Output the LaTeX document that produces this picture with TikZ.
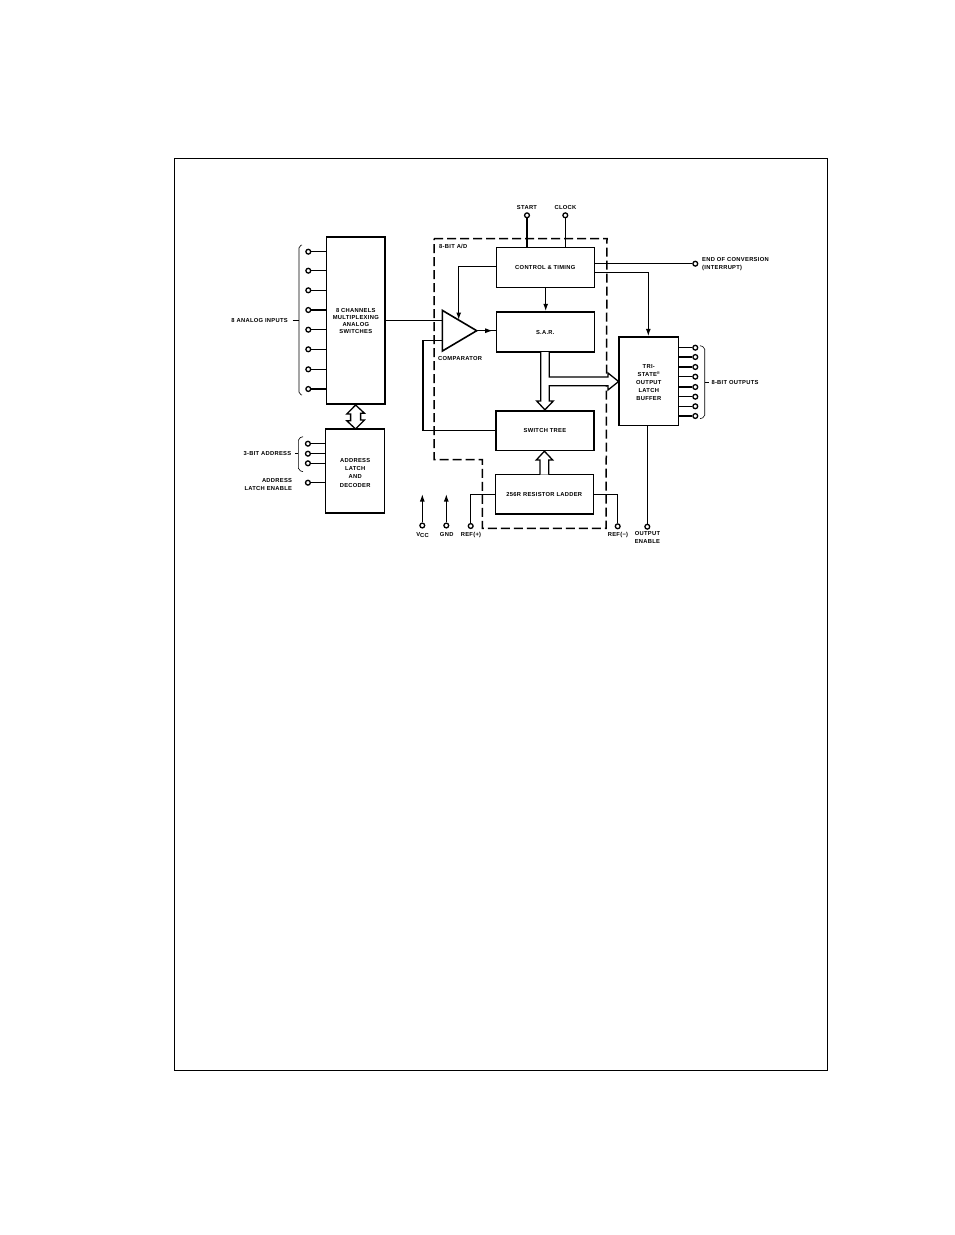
\documentclass[tikz,border=0pt]{standalone}
\usepackage{fontspec}
\setmainfont{Liberation Sans}
\newfontfamily\lblfont[LetterSpace=5]{Liberation Sans}
\usetikzlibrary{arrows.meta,shapes.geometric,decorations.markings,calc}
\tikzset{
  lab/.style={inner sep=0pt,font=\lblfont\bfseries\fontsize{5.8}{7}\selectfont,text=black,align=center},
  lableft/.style={lab,anchor=west,align=left},
  labright/.style={lab,anchor=east,align=right},
  blk/.style={draw,line width=1.5pt,inner sep=0pt,lab,draw=black},
  pin/.style={circle,draw,line width=1.3pt,fill=white,minimum size=4.8pt,inner sep=0pt},
  wire/.style={line width=1.5pt},
  thin wire/.style={line width=1.3pt},
  brace wire/.style={line width=0.6pt,rounded corners=2pt},
  bus/.style={line width=1.3pt,line join=miter},
  tip/.style={-{Latex[length=7.5pt,width=5pt]}},
  midtip/.style={postaction={decorate},decoration={markings,mark=at position #1 with {\arrow{Latex[length=7.5pt,width=5pt]}}}},
  boundary/.style={line width=1.5pt,dash pattern=on 9pt off 4pt},
}
\begin{document}
\begin{tikzpicture}[x=1pt,y=-1pt]
\useasboundingbox (0,0) rectangle (954,1235);
\fill[white] (0,0) rectangle (954,1235);
\node[draw,line width=0.8pt,minimum width=653.4pt,minimum height=912.6pt,inner sep=0pt] (frame) at (501,614.5) {};

% dashed boundary of the 8-bit A/D
\coordinate (d1) at (434,238.5);
\coordinate (d2) at (607,238.5);
\coordinate (d3) at (606,528.3);
\coordinate (d4) at (482.3,528.3);
\coordinate (d5) at (482.3,459.5);
\coordinate (d6) at (434,459.5);
\draw[boundary] (d1) -- (d2) -- (d3) -- (d4) -- (d5) -- (d6) -- cycle;
\node[lableft] (adlabel) at (439,246) {8-BIT A/D};

% blocks
\node[blk,minimum width=58.5pt,minimum height=167pt] (mux) at (355.8,320.5) {8 CHANNELS\\MULTIPLEXING\\ANALOG\\SWITCHES};
\node[blk,minimum width=59pt,minimum height=84pt] (addr) at (355.2,471) {\rule{0pt}{3.6pt}\\[-3.4pt]ADDRESS\\[1.3pt]LATCH\\[1.3pt]AND\\[1.3pt]DECODER};
\node[blk,minimum width=98pt,minimum height=39.6pt] (ctrl) at (545.3,267.5) {CONTROL \& TIMING};
\node[blk,minimum width=98pt,minimum height=40pt] (sar) at (545.3,332) {S.A.R.};
\node[blk,minimum width=97.7pt,minimum height=39.7pt] (tree) at (544.9,430.8) {SWITCH TREE};
\node[blk,minimum width=98pt,minimum height=39.4pt] (ladder) at (544.3,494.4) {256R RESISTOR LADDER};
\node[blk,minimum width=59.7pt,minimum height=88.3pt] (tri) at (648.8,381.2) {\rule{0pt}{3.6pt}\\[-3.4pt]TRI-\\[1pt]STATE\raisebox{1.8pt}{\fontsize{4}{4}\selectfont ®}\\[1pt]OUTPUT\\[1pt]LATCH\\[1pt]BUFFER};
\node[isosceles triangle,isosceles triangle stretches,draw,line width=1.6pt,line join=miter,outer sep=0pt,minimum width=40.7pt,minimum height=34.4pt,inner sep=0pt,anchor=apex,shape border rotate=0] (comp) at (476.7,330.7) {};
\node[lableft] (complabel) at (438,358.3) {COMPARATOR};
\coordinate (compA) at (442.6,320.7);
\coordinate (compB) at (442.6,340.7);
\coordinate (compC) at (458.7,320);

% analog inputs
\foreach \n/\y in {1/251.7,2/270.7,3/290.3,4/310,5/329.7,6/349.3,7/369.3,8/389}{
  \node[pin] (in\n) at (308.3,\y) {};
  \draw[wire] (in\n) -- (in\n -| mux.west);
}
\coordinate (brA) at (299,320.5);
\draw[brace wire] (302,245) -- (299,245.8) -- (299,394.2) -- (302,395);
\coordinate (tickA) at (292.7,320.5);
\draw[line width=0.7pt] (tickA) -- (brA);
\node[labright] (inlabel) at (288,320.2) {8 ANALOG INPUTS};

% address inputs
\foreach \n/\y in {1/443.7,2/453.7,3/463.3,4/482.7}{
  \node[pin] (ad\n) at (307.9,\y) {};
  \draw[wire] (ad\n) -- (ad\n -| addr.west);
}
\draw[brace wire] (303,436.7) -- (298.4,438.2) -- (298.4,470.2) -- (303,471.7);
\coordinate (brB) at (298.4,453.5);
\coordinate (tickB) at (295,453.5);
\draw[line width=0.7pt] (tickB) -- (brB);
\node[labright] (adlabelA) at (291.4,453.5) {3-BIT ADDRESS};
\node[labright] (adlabelB) at (292.3,484.4) {ADDRESS\\[1.6pt]LATCH ENABLE};

% mux <-> address double arrow
\coordinate (dTop) at (355.6,405);
\coordinate (dBot) at (355.6,429);
\draw[bus,fill=white] (dTop) -- ++(-8.8,9) -- ++(3.8,0) -- ++(0,6.8) -- ++(-3.8,0) -- (dBot) -- ++(8.8,-9) -- ++(-3.8,0) -- ++(0,-6.8) -- ++(3.8,0) -- cycle;

% top pins
\node[pin] (start) at (527,215.3) {};
\node[pin] (clock) at (565.3,215.3) {};
\node[lab] (startl) at (527,207.5) {START};
\node[lab] (clockl) at (565.5,207.5) {CLOCK};
\draw[wire] (start) -- (start |- ctrl.north);
\draw[wire] (clock) -- (clock |- ctrl.north);

% control logic
\draw[thin wire,tip] (ctrl.west |- 0,266.3) -| (compC);
\draw[thin wire,tip] (ctrl.south -| 545.7,0) -- (sar.north -| 545.7,0);
\draw[thin wire,midtip=0.85] (comp.apex) -- (sar.west |- comp.apex);

% comparator inputs
\draw[thin wire] (mux.east |- compA) -- (compA);
\draw[thin wire] (tree.west) -| (423,340.7) -- (compB);

% SAR buses
\coordinate (s1) at (540.7,352);
\coordinate (s2) at (549.3,352);
\draw[bus,fill=white] (s1) -- (540.7,401) -- (536.7,401) -- (544.9,409.8) -- (553.3,401) -- (549.3,401) -- (549.3,385.7) -- (608,385.7) -- (608,390) -- (618.6,381.5) -- (608,373) -- (608,377) -- (549.3,377) -- (s2);
\coordinate (l1) at (540,474.7);
\coordinate (l2) at (548.7,474.7);
\draw[bus,fill=white] (l1) -- (540,460) -- (536.3,460) -- (544.4,451.2) -- (552.7,460) -- (548.7,460) -- (l2);

% reference pins and supply
\node[pin] (refp) at (470.7,526) {};
\node[pin] (refm) at (617.7,526.3) {};
\draw[thin wire] (refp) |- (ladder.west);
\draw[thin wire] (refm) |- (ladder.east);
\node[lab] (refpl) at (471,534.5) {REF(+)};
\node[lab] (refml) at (618,534.7) {REF(−)};
\node[pin] (vcc) at (422.3,525.5) {};
\node[pin] (gnd) at (446.3,525.5) {};
\coordinate (vcct) at (422.3,494);
\coordinate (gndt) at (446.3,494);
\draw[thin wire,tip] (vcc) -- (vcct);
\draw[thin wire,tip] (gnd) -- (gndt);
\node[lab] (vccl) at (422.6,534.8) {V\raisebox{-1.3pt}{CC}};
\node[lab] (gndl) at (446.7,534.2) {GND};

% end of conversion / output latch
\node[pin] (eoc) at (695.3,263.7) {};
\draw[thin wire] (ctrl.east |- eoc) -- (eoc);
\node[lableft] (eocl) at (702,264.3) {END OF CONVERSION\\[1.2pt](INTERRUPT)};
\coordinate (ctl2) at (ctrl.east |- 0,272.3);
\draw[thin wire,tip] (ctl2) -| (tri.north -| 648.3,0);

% outputs
\foreach \n/\y in {1/347.7,2/357,3/367,4/376.7,5/387,6/396.7,7/406.3,8/416}{
  \node[pin] (out\n) at (695.3,\y) {};
  \draw[wire] (out\n) -- (out\n -| tri.east);
}
\draw[brace wire] (700,345.7) -- (704.7,347.2) -- (704.7,417.2) -- (700,418.7);
\coordinate (brC) at (704.7,382.3);
\coordinate (tickC) at (709.3,382.3);
\draw[line width=0.7pt] (brC) -- (tickC);
\node[lableft] (outl) at (711.3,382.3) {8-BIT OUTPUTS};

% output enable
\node[pin] (oe) at (647.3,526.7) {};
\draw[thin wire] (oe) -- (oe |- tri.south);
\node[lab,anchor=north] (oel) at (647.4,531) {OUTPUT\\[1.4pt]ENABLE};
\end{tikzpicture}
\end{document}
